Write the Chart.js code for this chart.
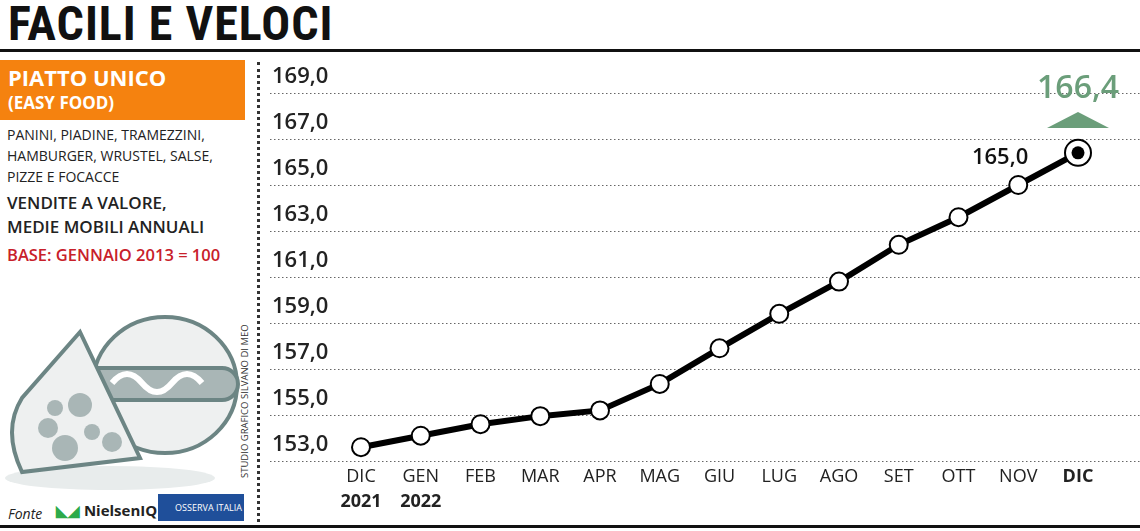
<!DOCTYPE html>
<html><head><meta charset="utf-8">
<script src="https://cdn.jsdelivr.net/npm/chart.js@4"></script>
<style>
body{margin:0;width:1140px;height:531px;background:#fff;position:relative;overflow:hidden;font-family:"Open Sans",sans-serif;}
#title{position:absolute;left:8px;top:-5px;font:bold 48px "Liberation Sans Narrow","Roboto Condensed","DejaVu Sans Condensed",sans-serif;letter-spacing:1px;color:#111;}
.hl{position:absolute;left:0;width:1140px;background:#111;}
#box{position:absolute;left:0;top:60px;width:245px;height:60px;background:#f5820f;color:#fff;font-weight:bold;}
#vd{position:absolute;left:257px;top:62px;height:460px;border-left:3px dotted #333;}
#cw{position:absolute;left:260px;top:55px;width:880px;height:476px;}
.t{position:absolute;left:7px;color:#222;}
</style></head><body>
<div id="title">FACILI E VELOCI</div>
<div class="hl" style="top:49px;height:3px"></div>
<div class="hl" style="top:525px;height:3px"></div>
<div id="box"><div style="position:absolute;left:8px;top:2px;font-size:22px">PIATTO UNICO</div><div style="position:absolute;left:8px;top:31px;font-size:17px">(EASY FOOD)</div></div>
<div class="t" style="top:124px;font-size:14px;line-height:21px">PANINI, PIADINE, TRAMEZZINI,<br>HAMBURGER, WRUSTEL, SALSE,<br>PIZZE E FOCACCE</div>
<div class="t" style="top:191px;font-size:17px;line-height:24px;font-weight:600">VENDITE A VALORE,<br>MEDIE MOBILI ANNUALI</div>
<div class="t" style="top:243px;font-size:16.5px;font-weight:600;color:#c8202a">BASE: GENNAIO 2013 = 100</div>
<svg style="position:absolute;left:0;top:310px" width="240" height="200" viewBox="0 0 240 200">
<ellipse cx="110" cy="168" rx="105" ry="12" fill="#e8ecec"/>
<g fill="#eef0f0" stroke="#6c8584" stroke-width="4">
<ellipse cx="165" cy="75" rx="72" ry="68"/>
<rect x="80" y="58" width="158" height="32" rx="16" fill="#a9b6b6"/>
<path d="M112 73 q15 -18 30 0 q15 18 30 0 q15 -18 30 0" fill="none" stroke="#fff" stroke-width="6"/>
<path d="M80 22 L140 148 L22 162 Q2 120 22 88 Z"/>
</g>
<g fill="#a9b6b6"><circle cx="80" cy="95" r="12"/><circle cx="65" cy="138" r="13"/><circle cx="48" cy="118" r="10"/><circle cx="112" cy="132" r="10"/><circle cx="55" cy="98" r="8"/><circle cx="92" cy="122" r="8"/></g>
</svg>
<div style="position:absolute;left:238px;top:478px;transform:rotate(-90deg);transform-origin:0 0;font-size:9.5px;color:#333;white-space:nowrap">STUDIO GRAFICO SILVANO DI MEO</div>
<div style="position:absolute;left:8px;top:504px;font-size:14px;font-style:italic;color:#222">Fonte</div>
<div style="position:absolute;left:56px;top:500px;font-size:15px;font-weight:bold;color:#222"><span style="color:#2daa4a">◣◢</span> NielsenIQ</div>
<div style="position:absolute;left:158px;top:494px;width:86px;height:27px;background:#1f4f9a;color:#fff;font-size:9px;line-height:27px;text-align:right;padding-right:2px;box-sizing:border-box">OSSERVA ITALIA</div>
<div id="vd"></div>
<div id="cw"><canvas id="c" width="880" height="476"></canvas></div>
<script>
const months=["DIC","GEN","FEB","MAR","APR","MAG","GIU","LUG","AGO","SET","OTT","NOV","DIC"];
const years=["2021","2022","","","","","","","","","","",""];
const values=[153.6,154.1,154.6,154.95,155.2,156.35,157.9,159.4,160.8,162.4,163.6,165.0,166.4];
const yTicks=[153,155,157,159,161,163,165,167,169];
const fmt=v=>v.toFixed(1).replace('.',',');
const deco={id:'deco',
beforeDatasetsDraw(ch){const c=ch.ctx,y=ch.scales.y,x=ch.scales.x;c.save();
 c.strokeStyle='#666';c.lineWidth=1;c.setLineDash([1.5,2.5]);
 yTicks.forEach(v=>{const p=Math.round(y.getPixelForValue(v))+0.5;c.beginPath();c.moveTo(10,p);c.lineTo(880,p);c.stroke();});
 c.setLineDash([]);c.font='600 22px "Open Sans"';c.textAlign='left';c.textBaseline='middle';
 yTicks.forEach(v=>{c.fillStyle='#fff';const p=y.getPixelForValue(v)-16;c.fillRect(8,p-14,80,26);c.fillStyle='#222';c.fillText(fmt(v),12,p);});
 c.textAlign='center';c.textBaseline='middle';
 months.forEach((m,i)=>{const px=x.getPixelForValue(i);c.font=(i===12?'bold ':'500 ')+'18px "Open Sans"';c.fillText(m,px,422);
  if(years[i]){c.font='bold 18px "Open Sans"';c.fillText(years[i],px,447);}});
 c.restore();},
afterDatasetsDraw(ch){const c=ch.ctx,y=ch.scales.y,x=ch.scales.x;c.save();
 const n=values.length-1,px=x.getPixelForValue(n),py=y.getPixelForValue(values[n]);
 c.fillStyle='#000';c.beginPath();c.arc(px,py,6.5,0,Math.PI*2);c.fill();
 c.fillStyle='#6b9e7a';c.font='600 32px "Open Sans"';c.textAlign='center';c.textBaseline='middle';c.fillText(fmt(values[n]),px,34);
 c.beginPath();c.moveTo(px-31,73);c.lineTo(px+31,73);c.lineTo(px,57);c.closePath();c.fill();
 const qx=x.getPixelForValue(n-1),qy=y.getPixelForValue(values[n-1]);
 c.fillStyle='#111';c.font='600 22px "Open Sans"';c.textAlign='right';c.fillText(fmt(values[n-1]),qx+10,qy-27);
 c.restore();}};
new Chart(document.getElementById('c'),{type:'line',
data:{labels:months.map((m,i)=>i),datasets:[{data:values,clip:false,borderColor:'#000',borderWidth:6,tension:0,
 pointRadius:values.map((v,i)=>i===values.length-1?13:9),pointBackgroundColor:'#fff',pointBorderColor:'#000',pointBorderWidth:2}]},
options:{responsive:false,animation:false,events:[],layout:{padding:{top:15,bottom:58.5,left:101,right:62}},
 plugins:{legend:{display:false},tooltip:{enabled:false}},
 scales:{x:{type:'linear',min:0,max:12,display:false},y:{min:152.5,max:170,display:false}}},
plugins:[deco]});
</script></body></html>
